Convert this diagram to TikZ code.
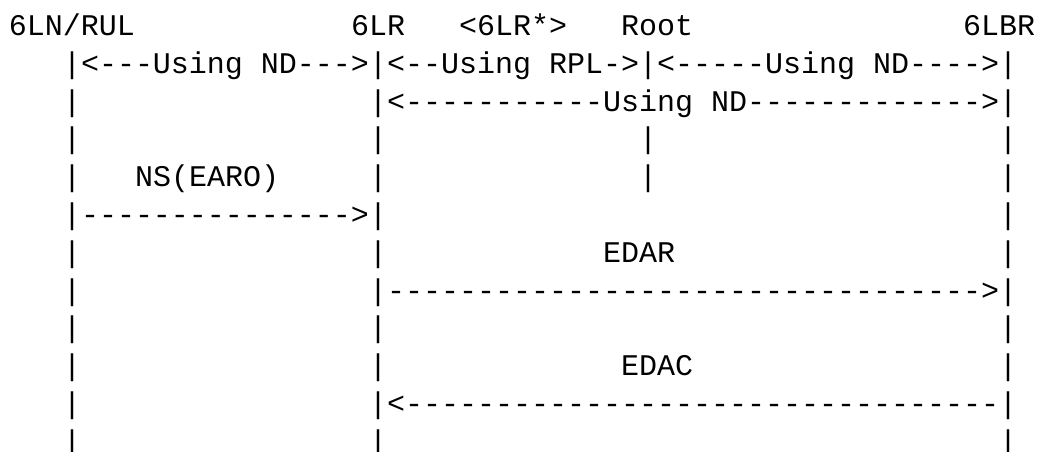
\documentclass[tikz,border=0pt]{standalone}
\usepackage{fontspec}
\newfontfamily\asciifont[Ligatures=TeXOff]{Liberation Mono}

\tikzset{
  ascii/.style={anchor=base west, inner sep=0pt, outer sep=0pt,
    font=\asciifont\fontsize{30}{36}\selectfont},
}

\begin{document}
\begin{tikzpicture}[x=18pt,y=-37.8pt]

  \useasboundingbox ([xshift=-9pt,yshift=35.4pt]0,1) rectangle ++(1045pt,-451pt);

  \begin{scope}[every node/.style={ascii}]
    % header
    \node (lnrul)  at (0,1)  {6LN/RUL};
    \node (lr)     at (19,1) {6LR};
    \node (lrstar) at (25,1) {<6LR*>};
    \node (root)   at (34,1) {Root};
    \node (lbr)    at (53,1) {6LBR};

    % life lines
    \foreach \c in {3,20,55}
      \foreach \r in {2,...,12}
        \node (bar-\c-\r) at (\c,\r) {|};
    \foreach \r in {2,4,5}
      \node (bar-35-\r) at (35,\r) {|};

    % scopes
    \node (nd1) at (4,2)  {<---Using ND--->};
    \node (rpl) at (21,2) {<--Using RPL->};
    \node (nd2) at (36,2) {<-----Using ND---->};
    \node (nd3) at (21,3) {<-----------Using ND------------->};

    % messages
    \node (ns)        at (7,5)   {NS(EARO)};
    \node (nsarrow)   at (4,6)   {--------------->};
    \node (edar)      at (33,7)  {EDAR};
    \node (edararrow) at (21,8)  {--------------------------------->};
    \node (edac)      at (34,10) {EDAC};
    \node (edacarrow) at (21,11) {<---------------------------------};
  \end{scope}

\end{tikzpicture}
\end{document}
